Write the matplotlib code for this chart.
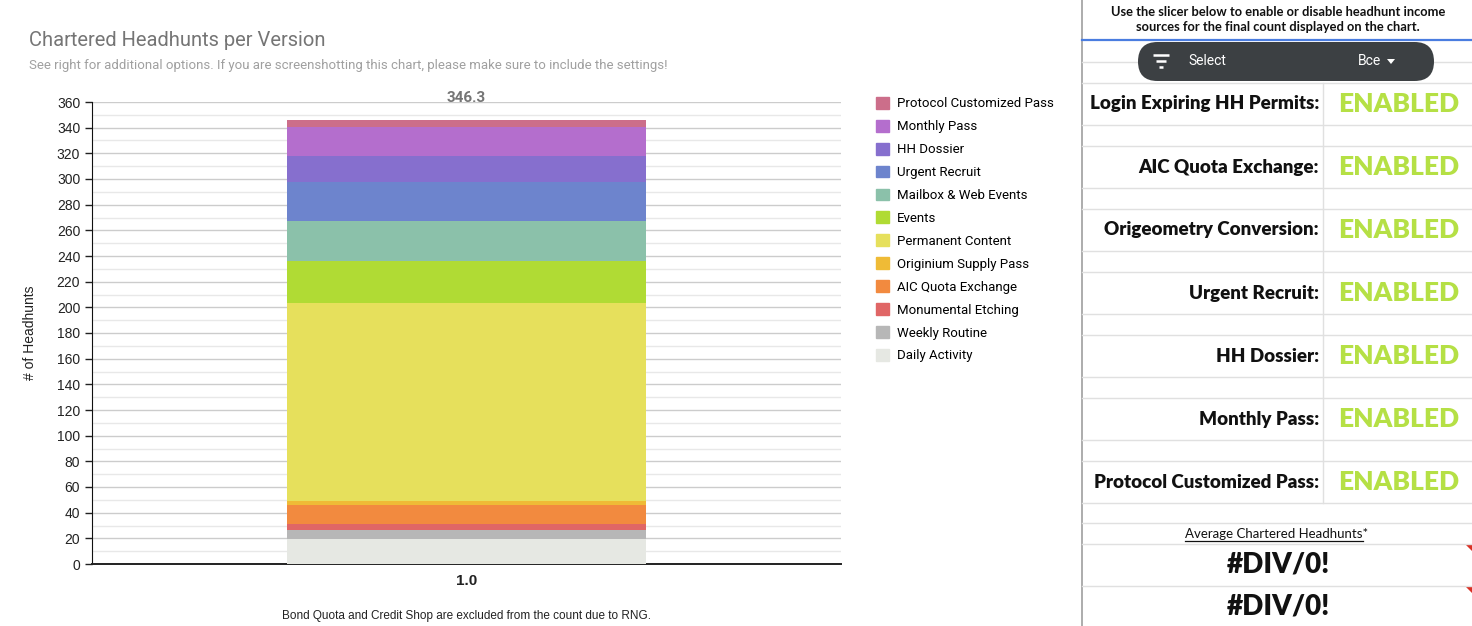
import matplotlib
matplotlib.use("Agg")
import matplotlib.pyplot as plt
from matplotlib.patches import FancyBboxPatch, Polygon, Patch

# data (bottom to top of the stack)
sources = ["Daily Activity", "Weekly Routine", "Monumental Etching", "AIC Quota Exchange",
           "Originium Supply Pass", "Permanent Content", "Events", "Mailbox & Web Events",
           "Urgent Recruit", "HH Dossier", "Monthly Pass", "Protocol Customized Pass"]
values = [19.5, 7.0, 4.7, 14.8, 3.1, 154.3, 32.7, 31.4, 30.4, 20.3, 22.1, 6.0]
colors = ["#e6e8e3", "#b7b7b7", "#e06666", "#f28a3f", "#efbb36", "#e6e05c",
          "#b0db34", "#8bc1aa", "#6d84cd", "#866fce", "#b46ecd", "#cc6e8a"]
versions = ["1.0"]

settings = ["Login Expiring HH Permits:", "AIC Quota Exchange:", "Origeometry Conversion:",
            "Urgent Recruit:", "HH Dossier:", "Monthly Pass:", "Protocol Customized Pass:"]
states = ["ENABLED"] * 7
averages = ["#DIV/0!", "#DIV/0!"]

W, H = 1472, 626
fig = plt.figure(figsize=(W / 100, H / 100), dpi=100)

# ---- chart ----
ax = fig.add_axes([92 / W, 62 / H, 749 / W, 462 / H])
bottom = 0
for v, c, name in zip(values, colors, sources):
    ax.bar(0, v, width=0.48, bottom=bottom, color=c, label=name, zorder=3)
    bottom += v
total = sum(values)
ax.text(0, total + 11, "%.1f" % total, ha="center", va="bottom", fontsize=11,
        fontweight="bold", color="#757575", family="Roboto")

ax.set_xlim(-0.5, 0.5)
ax.set_ylim(0, 360)
ax.set_yticks(range(0, 361, 20))
ax.set_yticks(range(10, 360, 20), minor=True)
ax.set_xticks([0])
ax.set_xticklabels(versions, fontsize=11, fontweight="bold", family="Liberation Sans")
ax.tick_params(axis="x", length=0, pad=7, colors="#222222")
ax.tick_params(axis="y", which="major", length=5, width=1, labelsize=10, colors="#222222")
ax.tick_params(axis="y", which="minor", length=0)
for lab in ax.get_yticklabels():
    lab.set_family("Liberation Sans")
ax.grid(axis="y", which="major", color="#cccccc", linewidth=1, zorder=0)
ax.grid(axis="y", which="minor", color="#e8e8e8", linewidth=1, zorder=0)
for s in ["top", "right"]:
    ax.spines[s].set_visible(False)
ax.spines["left"].set_color("#111111")
ax.spines["bottom"].set_color("#222222")
ax.spines["bottom"].set_linewidth(1.4)
ax.set_ylabel("# of Headhunts", fontsize=10, family="Liberation Sans", color="#222222", labelpad=14)
ax.set_xlabel("Bond Quota and Credit Shop are excluded from the count due to RNG.",
              fontsize=8.5, family="Liberation Sans", color="#222222", labelpad=16)

handles = [Patch(color=c) for c in colors][::-1]
fig.legend(handles, sources[::-1], loc="upper left", bbox_to_anchor=(864 / W, 1 - 85 / H),
           frameon=False, handlelength=1.0, handleheight=1.0,
           handletextpad=0.6, labelspacing=0.72, prop={"family": "Roboto", "size": 9.5})

fig.text(29 / W, 1 - 41 / H, "Chartered Headhunts per Version", fontsize=14.5, color="#757575",
         family="Roboto", va="center")
fig.text(29 / W, 1 - 66 / H,
         "See right for additional options. If you are screenshotting this chart, please make sure to include the settings!",
         fontsize=9.5, color="#a0a0a0", family="Roboto", va="center")

# ---- settings panel (pixel coordinates) ----
p = fig.add_axes([0, 0, 1, 1], zorder=5)
p.set_xlim(0, W)
p.set_ylim(H, 0)
p.axis("off")
p.patch.set_alpha(0)

x0, x1, xm = 1082, W, 1323
grid_c = "#e0e0e0"
p.plot([x0, x0], [0, H], color="#9e9e9e", lw=1.2)
p.plot([x0, x1], [40, 40], color="#4a7de0", lw=1.6)
p.text(1278, 12, "Use the slicer below to enable or disable headhunt income", ha="center",
       va="center", fontsize=9.3, fontweight="bold", family="Lato", color="#111111")
p.text(1278, 27, "sources for the final count displayed on the chart.", ha="center",
       va="center", fontsize=9.3, fontweight="bold", family="Lato", color="#111111")

p.plot([x0, x1], [62, 62], color=grid_c, lw=1)
pill = FancyBboxPatch((1138, 42), 296, 39, boxstyle="round,pad=0,rounding_size=19.5",
                      fc="#3c4043", ec="none", zorder=6)
p.add_patch(pill)
for yy, ww in [(55, 16), (61, 10), (67, 4)]:
    p.plot([1161 - ww / 2, 1161 + ww / 2], [yy, yy], color="white", lw=1.8, zorder=7,
           solid_capstyle="butt")
p.text(1188, 61, "Select", ha="left", va="center", fontsize=10, color="white", family="Roboto",
       zorder=7)
p.text(1358, 61, "Bce", ha="left", va="center", fontsize=10, color="white", family="Roboto",
       zorder=7)
p.add_patch(Polygon([[1387, 59], [1395, 59], [1391, 64]], closed=True, fc="white", zorder=7))

top = 83
for i, (lab, st) in enumerate(zip(settings, states)):
    y = top + 63 * i
    p.plot([x0, x1], [y, y], color=grid_c, lw=1)
    p.plot([x0, x1], [y + 42, y + 42], color=grid_c, lw=1)
    p.plot([xm, xm], [y, y + 42 + (21 if i < len(settings) - 1 else 0)], color=grid_c, lw=1)
    p.text(1319, y + 21, lab, ha="right", va="center", fontsize=13.5, fontweight="heavy",
           family="Lato", color="#111111")
    p.text(1399, y + 21, st, ha="center", va="center", fontsize=19, fontweight="heavy",
           family="Lato", color="#b5e045")

for y in [523, 544, 586]:
    p.plot([x0, x1], [y, y], color=grid_c, lw=1)
p.text(1185, 534, "Average Chartered Headhunts*", ha="left", va="center", fontsize=9.5,
       family="Lato", color="#111111")
p.plot([1185, 1363], [541, 541], color="#111111", lw=0.9)
for i, s in enumerate(averages):
    y = 544 + 42 * i
    p.text(1278, y + 21, s, ha="center", va="center", fontsize=20, fontweight="heavy",
           family="Lato", color="#111111")
    p.add_patch(Polygon([[1466, y + 1], [1472, y + 1], [1472, y + 7]], closed=True,
                        fc="#d93025", ec="none"))

fig.savefig("out.png", dpi=100)
